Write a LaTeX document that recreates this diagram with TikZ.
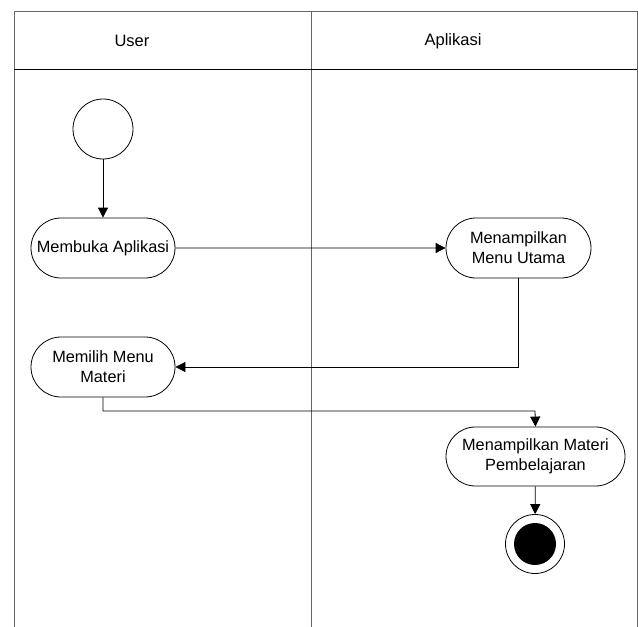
\documentclass[tikz,border=0pt]{standalone}
\usepackage{fontspec}
\setmainfont{Liberation Sans}
\usetikzlibrary{arrows.meta,shapes.misc}
\begin{document}
\begin{tikzpicture}[x=1pt,y=-1pt,
  lane/.style={draw=black!60,line width=1pt},
  act/.style={draw=black,line width=0.8pt,rounded rectangle,minimum height=60pt,align=center,
    font=\fontsize{16.3}{20}\selectfont,inner sep=2pt},
  flow/.style={draw=black,line width=0.8pt,-{Triangle[length=10pt,width=10pt]}},
  hdr/.style={font=\fontsize{16.5}{20}\selectfont}]
\useasboundingbox (0,0) rectangle (638,627);
% swimlane frame
\draw[lane] (14,627) -- (14,11) -- (637,11) -- (637,627);
\draw[lane] (311,11) -- (311,627);
\draw[black,line width=1pt] (14,69) -- (637,69);
\node[hdr] (hUser) at (132,41) {User};
\node[hdr] (hApp) at (453,41) {Aplikasi};
% nodes
\node[draw=black,line width=0.8pt,circle,minimum size=60pt,inner sep=0pt] (start) at (103,129) {};
\node[act,minimum width=148pt] (a1) at (103,248) {Membuka Aplikasi};
\node[act,minimum width=149pt] (a2) at (518.5,248) {Menampilkan\\Menu Utama};
\node[act,minimum width=148pt] (a3) at (103,367) {Memilih Menu\\Materi};
\node[act,minimum width=183pt,minimum height=59pt] (a4) at (535.5,456.5) {Menampilkan Materi\\Pembelajaran};
\node[draw=black,line width=0.8pt,circle,minimum size=59pt,inner sep=0pt] (end) at (535,544) {};
\node[fill=black,circle,minimum size=42pt,inner sep=0pt] (endin) at (535,544) {};
% connectors
\draw[flow] (start) -- (a1);
\draw[flow] (a1) -- (a2);
\draw[flow] (a2.south) |- (a3.east);
\coordinate (c1) at (535,411);
\draw[flow] (a3.south) |- (c1) -- (a4.north);
\draw[flow] (a4) -- (end);
\end{tikzpicture}
\end{document}
